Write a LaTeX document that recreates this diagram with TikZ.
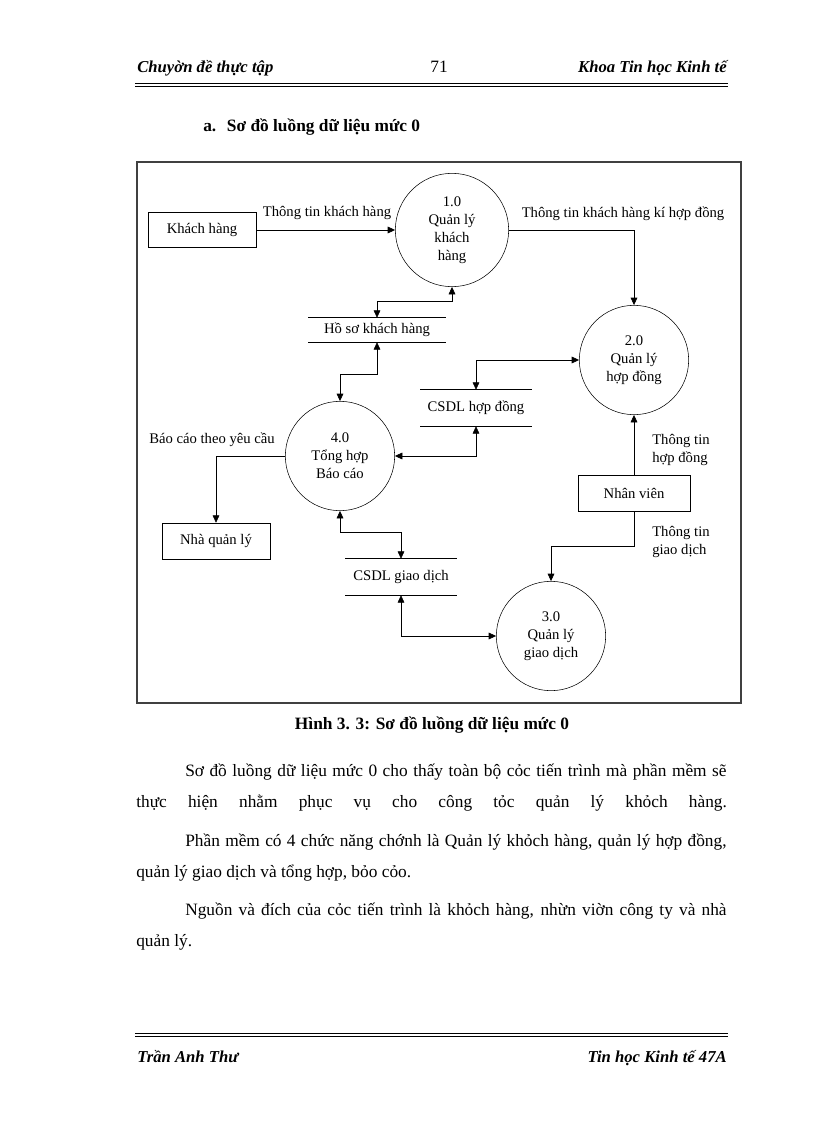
\documentclass[tikz,border=0pt]{standalone}
\usepackage{fontspec}
\setmainfont{Liberation Serif}
\usetikzlibrary{arrows.meta}

\newcommand\dgfont{\fontsize{11}{13.5}\selectfont}
\newcommand\bodyfont{\fontsize{13}{16}\selectfont}
\newcommand\hdrfont{\fontsize{12.5}{15}\selectfont\bfseries\itshape}

\tikzset{
  proc/.style={draw, circle, minimum size=82pt, inner sep=0pt, align=center, font=\dgfont},
  ent/.style={draw, rectangle, minimum width=81pt, minimum height=26pt, inner sep=0pt, font=\dgfont},
  store/.style={minimum height=27pt, inner sep=0pt, font=\dgfont,
    append after command={(\tikzlastnode.north west) edge (\tikzlastnode.north east)
      (\tikzlastnode.south west) edge (\tikzlastnode.south east)}},
  flow/.style={-{Triangle[length=5.5pt,width=5pt]}},
  both/.style={{Triangle[length=5.5pt,width=5pt]}-{Triangle[length=5.5pt,width=5pt]}},
  lbl/.style={font=\dgfont, inner sep=0.75pt},
  body/.style={font=\bodyfont, inner sep=0pt}
}

\begin{document}
\begin{tikzpicture}[x=0.75pt,y=0.75pt,yscale=-1,xscale=1]
\useasboundingbox (0,0) rectangle (816,1123);

% header
\node[font=\hdrfont, anchor=base west, inner sep=0pt] (hleft) at (137,73) {Chuyờn đề thực tập};
\node[body, anchor=base] (hpage) at (439,73) {71};
\node[font=\hdrfont, anchor=base east, inner sep=0pt] (hright) at (727,73) {Khoa Tin học Kinh tế};
\draw[line width=0.4pt] (135,83) -- (728,83);
\draw[line width=1.2pt] (135,86.5) -- (728,86.5);

\node[body, font=\bodyfont\bfseries, anchor=base west] (title) at (203,132) {a.\hspace{8pt}Sơ đồ luồng dữ liệu mức 0};

% frame
\draw[line width=1.1pt, black!75] (137,162) rectangle (741,703);

% external entities
\node[ent] (kh) at (202,230) {Khách hàng};
\node[ent, minimum height=27pt] (nql) at (216,541) {Nhà quản lý};
\node[ent, minimum width=84pt, minimum height=27pt] (nv) at (634,493) {Nhân viên};

% processes
\node[proc, minimum size=85pt] (c1) at (452,230) {1.0\\Quản lý\\khách\\hàng};
\node[proc] (c2) at (634,360) {2.0\\Quản lý\\hợp đồng};
\node[proc] (c4) at (340,456) {4.0\\Tổng hợp\\Báo cáo};
\node[proc] (c3) at (551,636) {3.0\\Quản lý\\giao dịch};

% data stores
\node[store, minimum width=103pt, minimum height=18pt] (hs) at (377,330) {Hồ sơ khách hàng};
\node[store, minimum width=83pt] (hd) at (476,408) {CSDL hợp đồng};
\node[store, minimum width=83pt] (gd) at (401,577) {CSDL giao dịch};

% flows
\draw[flow] (kh.east) -- (c1.west);
\draw[flow] (c1.east) -| (c2.north);
\draw[both] (hs.north) -- ++(0,-16) -| (c1.south);
\draw[both] (hs.south) -- ++(0,32) -| (c4.north);
\draw[both] (hd.north) |- (c2.west);
\draw[both] (hd.south) |- (c4.east);
\draw[flow] (c4.west) -| (nql.north);
\draw[both] (gd.north) -- ++(0,-26) -| (c4.south);
\draw[both] (gd.south) |- (c3.west);
\draw[flow] (nv.north) -- (c2.south);
\draw[flow] (nv.south) -- ++(0,35) -| (c3.north);

% flow labels
\node[lbl] (l1) at (327,213) {Thông tin khách hàng};
\node[lbl] (l2) at (623,214) {Thông tin khách hàng kí hợp đồng};
\node[lbl] (l3) at (212,440) {Báo cáo theo yêu cầu};
\node[lbl, anchor=west, align=left] (l4) at (651,450) {Thông tin\\hợp đồng};
\node[lbl, anchor=west, align=left] (l5) at (651,542) {Thông tin\\giao dịch};

% caption and text
\node[body, font=\bodyfont\bfseries, anchor=base] (cap) at (432,729) {Hình 3. 3: Sơ đồ luồng dữ liệu mức 0};
\node[body, anchor=base west] (p1) at (185,776) {\makebox[406pt][s]{Sơ đồ luồng dữ liệu mức 0 cho thấy toàn bộ cỏc tiến trình mà phần mềm sẽ}};
\node[body, anchor=base west] (p2) at (136,807) {\makebox[443pt][s]{thực hiện nhằm phục vụ cho công tỏc quản lý khỏch hàng.}};
\node[body, anchor=base west] (p3) at (185,846) {\makebox[406pt][s]{Phần mềm có 4 chức năng chớnh là Quản lý khỏch hàng, quản lý hợp đồng,}};
\node[body, anchor=base west] (p4) at (136,877) {quản lý giao dịch và tổng hợp, bỏo cỏo.};
\node[body, anchor=base west] (p5) at (185,915) {\makebox[406pt][s]{Nguồn và đích của cỏc tiến trình là khỏch hàng, nhừn viờn công ty và nhà}};
\node[body, anchor=base west] (p6) at (136,946) {quản lý.};

% footer
\draw[line width=0.4pt] (135,1033) -- (728,1033);
\draw[line width=1.2pt] (135,1036.5) -- (728,1036.5);
\node[font=\hdrfont, anchor=base west, inner sep=0pt] (fleft) at (137,1062) {Trần Anh Thư};
\node[font=\hdrfont, anchor=base east, inner sep=0pt] (fright) at (727,1062) {Tin học Kinh tế 47A};

\end{tikzpicture}
\end{document}
